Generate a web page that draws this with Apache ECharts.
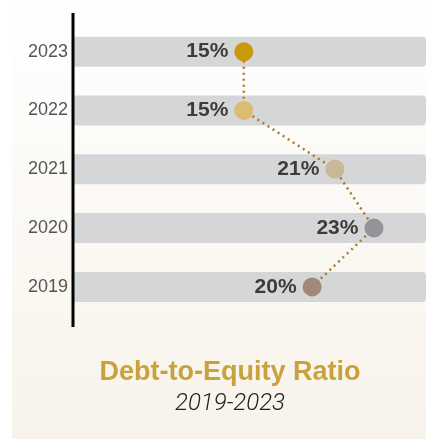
<!DOCTYPE html>
<html>
<head>
<meta charset="utf-8">
<script src="https://cdn.jsdelivr.net/npm/echarts@6/dist/echarts.min.js"></script>
<style>
  html, body { margin: 0; padding: 0; background: #fff; }
  #chart { width: 426px; height: 439px; }
</style>
</head>
<body>
<div id="chart"></div>
<script>
var years = ['2019', '2020', '2021', '2022', '2023']
var ratios = [19.5, 23.3, 20.9, 15.3, 15.3]
var dotColors = ['#a28878', '#939497', '#c9b796', '#dcbc72', '#c8990a']
var bandValues = [1, 1, 1, 1, 1]

var chart = echarts.init(document.getElementById('chart'))

var option = {
  animation: false,
  graphic: [
    {
      type: 'rect',
      z: -10,
      shape: { x: 12, y: 0, width: 414, height: 439 },
      style: {
        fill: new echarts.graphic.LinearGradient(0, 0, 0, 1, [
          { offset: 0, color: '#ffffff' },
          { offset: 1, color: '#f8f3ea' }
        ])
      }
    },
    {
      type: 'line',
      z: 10,
      shape: { x1: 73, y1: 13, x2: 73, y2: 327 },
      style: { stroke: '#000', lineWidth: 3 }
    },
    {
      type: 'text',
      x: 230,
      y: 373,
      style: {
        text: 'Debt-to-Equity Ratio',
        fill: '#c8a23a',
        align: 'center',
        verticalAlign: 'middle',
        font: 'bold 27px "Liberation Sans", Arial, sans-serif'
      }
    },
    {
      type: 'text',
      x: 230,
      y: 404,
      style: {
        text: '2019-2023',
        fill: '#222',
        align: 'center',
        verticalAlign: 'middle',
        font: 'italic 300 24px Roboto, "Liberation Sans", sans-serif'
      }
    }
  ],
  grid: { left: 73, right: 0, top: 22.3, height: 294 },
  xAxis: [
    { type: 'value', min: 4.8, max: 26.5, show: false },
    { type: 'value', min: 0, max: 1, show: false }
  ],
  yAxis: {
    type: 'category',
    data: years,
    axisLine: { show: false },
    axisTick: { show: false },
    axisLabel: {
      margin: 5,
      color: '#555',
      fontSize: 18,
      fontFamily: '"Liberation Sans", Arial, sans-serif'
    }
  },
  series: [
    {
      type: 'bar',
      xAxisIndex: 1,
      data: bandValues,
      barWidth: 30,
      silent: true,
      itemStyle: { color: '#d5d6d8', borderRadius: [0, 4, 4, 0] }
    },
    {
      type: 'line',
      data: ratios,
      symbol: 'none',
      z: 3,
      lineStyle: { color: '#a67c2e', width: 2.5, type: [2, 4] }
    },
    {
      type: 'scatter',
      z: 5,
      symbolSize: 19,
      data: ratios.map(function (v, i) {
        return { value: v, itemStyle: { color: dotColors[i], opacity: 1 } }
      }),
      label: {
        show: true,
        position: 'left',
        distance: 6,
        color: '#3c3c3c',
        fontSize: 21,
        fontWeight: 'bold',
        fontFamily: '"Liberation Sans", Arial, sans-serif',
        formatter: function (p) {
          return Math.round(p.value) + '%'
        }
      }
    }
  ]
}

chart.setOption(option)
</script>
</body>
</html>
